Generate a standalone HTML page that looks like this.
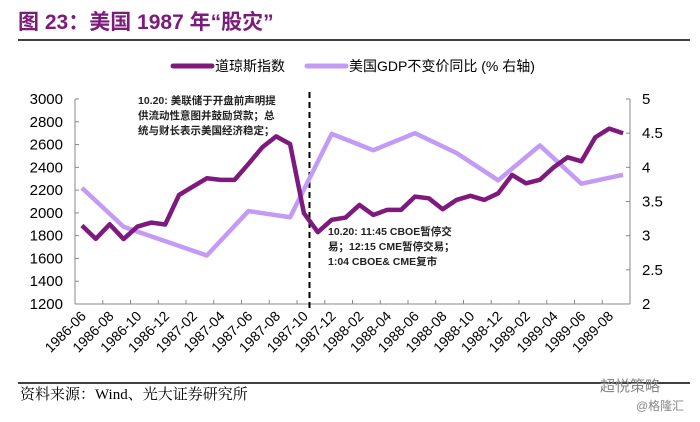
<!DOCTYPE html>
<html><head><meta charset="utf-8"><style>
body{margin:0;background:#fff;width:700px;height:417px;overflow:hidden;font-family:"Liberation Sans","Noto Sans CJK SC",sans-serif}
</style></head><body>
<svg id="chart" width="700" height="417" viewBox="0 0 700 417" xmlns="http://www.w3.org/2000/svg">
<text x="18" y="29" font-size="21" font-weight="bold" fill="#7B1C7B" font-family="Liberation Sans, Noto Sans CJK SC, sans-serif">图 23：美国 1987 年“股灾”</text>
<line x1="18" y1="40" x2="690" y2="40" stroke="#000" stroke-width="1.5"/>
<g>
<line x1="173" y1="66" x2="212" y2="66" stroke="#7E1A7E" stroke-width="5" stroke-linecap="round"/>
<text x="215" y="71" font-size="14" fill="#000">道琼斯指数</text>
<line x1="307" y1="66" x2="346" y2="66" stroke="#C39BF5" stroke-width="5" stroke-linecap="round"/>
<text x="349" y="71" font-size="14" fill="#000">美国GDP不变价同比 (% 右轴)</text>
</g>
<g id="plot"></g>
<text x="138" y="104" font-size="10.5" font-weight="bold" fill="#222"><tspan x="138" dy="0">10.20: 美联储于开盘前声明提</tspan><tspan x="138" dy="15">供流动性意图并鼓励贷款；总</tspan><tspan x="138" dy="15">统与财长表示美国经济稳定；</tspan></text>
<text x="328" y="235" font-size="10.5" font-weight="bold" fill="#222"><tspan x="328" dy="0">10.20: 11:45 CBOE暂停交</tspan><tspan x="328" dy="15">易；12:15 CME暂停交易；</tspan><tspan x="328" dy="15">1:04 CBOE&amp; CME复市</tspan></text>
<line x1="18" y1="383" x2="690" y2="383" stroke="#000" stroke-width="1.5"/>
<text x="20" y="399" font-size="15" fill="#000" font-family="Liberation Serif, Noto Serif CJK SC, serif">资料来源：Wind、光大证券研究所</text>
<text x="600" y="391" font-size="15" fill="#888">超悦策略</text>
<text x="636" y="410" font-size="12" fill="#888">@格隆汇</text>
</svg>
<script>
const months = ["1986-06","1986-07","1986-08","1986-09","1986-10","1986-11","1986-12","1987-01","1987-02","1987-03","1987-04","1987-05","1987-06","1987-07","1987-08","1987-09","1987-10","1987-11","1987-12","1988-01","1988-02","1988-03","1988-04","1988-05","1988-06","1988-07","1988-08","1988-09","1988-10","1988-11","1988-12","1989-01","1989-02","1989-03","1989-04","1989-05","1989-06","1989-07","1989-08","1989-09"];
const dow = [1889,1772,1900,1770,1880,1915,1898,2158,2231,2304,2290,2290,2430,2576,2672,2605,1997,1831,1939,1959,2070,1982,2026,2026,2143,2128,2032,2114,2150,2114,2172,2333,2260,2290,2400,2488,2453,2664,2740,2699];
const gdpIdx = [0,3,6,9,12,15,18,21,24,27,30,33,36,39];
const gdp = [3.70,3.13,2.92,2.71,3.36,3.27,4.49,4.25,4.50,4.21,3.81,4.32,3.76,3.89];
const leftTicks = [1200,1400,1600,1800,2000,2200,2400,2600,2800,3000];
const rightTicks = [2,2.5,3,3.5,4,4.5,5];
const crashPos = 16.4;

const X0=75,X1=630,Y0=304,Y1=99;
const bw=(X1-X0)/months.length;
const x=i=>X0+bw*(i+0.5);
const yL=v=>Y0-(v-1200)/(3000-1200)*(Y0-Y1);
const yR=v=>Y0-(v-2)/(5-2)*(Y0-Y1);
const NS="http://www.w3.org/2000/svg";
const g=document.getElementById('plot');
function mk(t,a){const e=document.createElementNS(NS,t);for(const k in a)e.setAttribute(k,a[k]);g.appendChild(e);return e;}

let e=mk('line',{x1:X0,y1:Y1,x2:X0,y2:Y0,stroke:'#888'});


e=mk('line',{x1:X1,y1:Y1,x2:X1,y2:Y0,stroke:'#888'});


e=mk('line',{x1:X0,y1:Y0,x2:X1,y2:Y0,stroke:'#888'});



leftTicks.forEach(v=>{
  const t=mk('line',{x1:X0,y1:yL(v),x2:X0+4,y2:yL(v),stroke:'#888'});
  
  
  const l=mk('text',{x:X0-12,y:yL(v)+5,'font-size':15,'text-anchor':'end',fill:'#000'});
  l.textContent=v;
  
  
});
rightTicks.forEach(v=>{
  const t=mk('line',{x1:X1-4,y1:yR(v),x2:X1,y2:yR(v),stroke:'#888'});
  
  
  const l=mk('text',{x:X1+12,y:yR(v)+5,'font-size':15,fill:'#000'});
  l.textContent=v;
  
  
});
for(let i=0;i<=months.length;i+=2){
  const tx=X0+bw*i;
  const t=mk('line',{x1:tx,y1:Y0,x2:tx,y2:Y0-4,stroke:'#888'});
  
  
}
months.forEach((m,i)=>{
  if(i%2)return;
  const lx=x(i)+5,ly=Y0+13;
  const l=mk('text',{x:lx,y:ly,'font-size':14,'text-anchor':'end',fill:'#000',transform:`rotate(-45 ${lx} ${ly})`});
  l.textContent=m;
  
  
});
const cx=X0+bw*(crashPos+0.5);
e=mk('line',{x1:cx,y1:92,x2:cx,y2:Y0+4,stroke:'#000','stroke-width':2,'stroke-dasharray':'6,4'});



e=mk('polyline',{points:gdpIdx.map((d,k)=>x(d)+','+yR(gdp[k])).join(' '),fill:'none',stroke:'#C39BF5','stroke-width':4.5,'stroke-linejoin':'round'});


e=mk('polyline',{points:dow.map((v,i)=>x(i)+','+yL(v)).join(' '),fill:'none',stroke:'#7E1A7E','stroke-width':4.5,'stroke-linejoin':'round'});


</script>
</body></html>
